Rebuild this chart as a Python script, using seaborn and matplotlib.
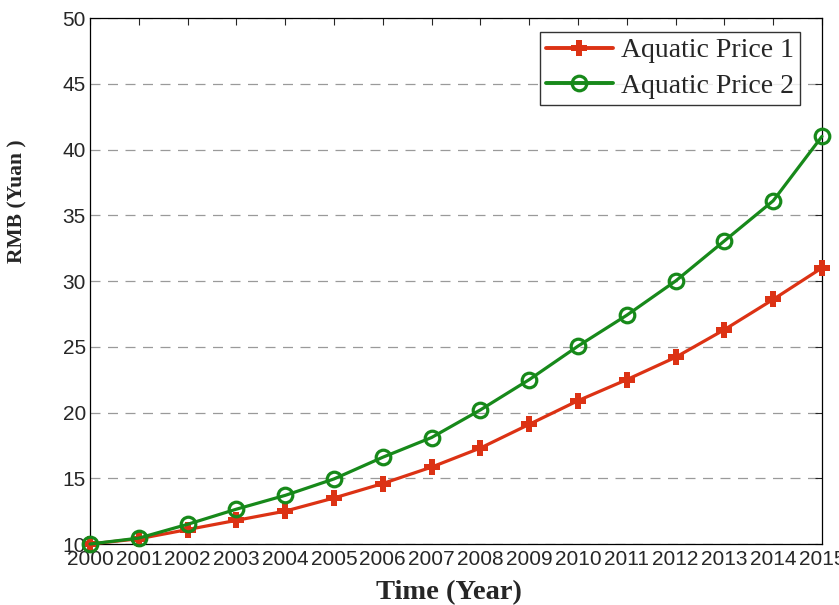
import pandas as pd
import seaborn as sns
import matplotlib
matplotlib.use('Agg')
import matplotlib.pyplot as plt

# Данные
years = list(range(2000, 2016))
price1 = [10.0, 10.4, 11.1, 11.8, 12.5, 13.5, 14.6, 15.85, 17.3, 19.1,
          20.9, 22.5, 24.2, 26.3, 28.6, 31.0]
price2 = [10.0, 10.45, 11.5, 12.65, 13.7, 14.95, 16.6, 18.1, 20.2, 22.5,
          25.05, 27.4, 30.0, 33.05, 36.1, 41.0]
series_names = ['Aquatic Price 1', 'Aquatic Price 2']

df = pd.DataFrame({
    'year': years * 2,
    'price': price1 + price2,
    'series': [series_names[0]] * len(years) + [series_names[1]] * len(years),
})

sns.set_style('white')
plt.rcParams['font.family'] = ['Liberation Sans', 'DejaVu Sans']

fig = plt.figure(figsize=(8.39, 6.05), dpi=100)
ax = fig.add_axes([0.1073, 0.1008, 0.8724, 0.8694])

palette = {series_names[0]: '#dc3214', series_names[1]: '#17891a'}
sns.lineplot(data=df, x='year', y='price', hue='series', style='series',
             markers={series_names[0]: 'P', series_names[1]: 'o'},
             dashes=False, palette=palette, linewidth=2.3, ax=ax,
             legend=False)

# Маркеры: красный плюс, зелёный полый круг
lines = ax.get_lines()
lines[0].set_markersize(11.5)
lines[0].set_markeredgewidth(0)
lines[1].set_markersize(10.5)
lines[1].set_markerfacecolor('none')
lines[1].set_markeredgewidth(2.3)
lines[1].set_markeredgecolor(palette[series_names[1]])
for ln in lines:
    ln.set_clip_on(False)
    ln.set_zorder(5)

ax.set_xlim(2000, 2015)
ax.set_ylim(10, 50)
ax.set_xticks(years)
ax.set_yticks(range(10, 51, 5))
ax.tick_params(axis='both', direction='in', top=True, right=True,
               labelsize=15, length=5, width=0.8)
ax.tick_params(axis='x', pad=4)
ax.tick_params(axis='y', pad=3)
ax.yaxis.grid(True, linestyle=(0, (8, 6)), color='#9a9a9a', linewidth=0.9)
ax.xaxis.grid(False)
for s in ax.spines.values():
    s.set_color('black')
    s.set_linewidth(0.9)

ax.set_xlabel('Time (Year)', fontfamily='Liberation Serif', fontweight='bold',
              fontsize=20.5, labelpad=8)
ax.xaxis.label.set_x(0.49)
ax.set_ylabel('RMB (Yuan )', fontfamily='Liberation Serif', fontweight='bold',
              fontsize=15.5)
ax.yaxis.set_label_coords(-0.0855, 0.652)

leg = ax.legend(handles=lines[:2], labels=series_names, loc='upper right',
                bbox_to_anchor=(0.989, 1.0),
                prop={'family': 'Liberation Serif', 'size': 20},
                frameon=True, fancybox=False, edgecolor='black',
                handlelength=2.4, borderpad=0.22, labelspacing=0.35,
                handletextpad=0.3, borderaxespad=0.5)
leg.get_frame().set_linewidth(1.0)
for h in leg.get_lines():
    h.set_linewidth(2.8)

fig.savefig('out.png', dpi=100)
